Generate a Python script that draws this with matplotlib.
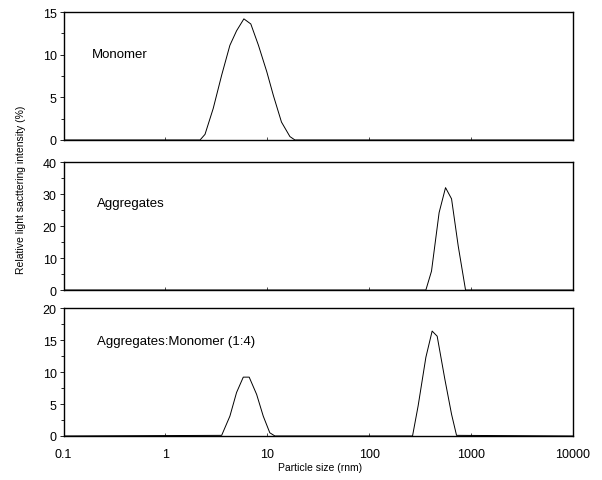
import numpy as np
import matplotlib.pyplot as plt
from matplotlib.ticker import MultipleLocator, FixedLocator, NullFormatter, NullLocator

# Monomer panel (size in nm, intensity in %)
mono_size = [0.1, 2.19, 2.45, 2.95, 3.57, 4.3, 5.0, 5.9, 6.9, 8.2, 9.9, 11.5, 13.8, 16.7, 18.7, 10000]
mono_int = [0, 0, 0.66, 3.7, 7.6, 11.1, 12.8, 14.2, 13.6, 11.1, 8.0, 5.2, 2.1, 0.4, 0, 0]

# Aggregates panel
agg_size = [0.1, 361, 410, 487, 563, 645, 750, 885, 10000]
agg_int = [0, 0, 5.9, 24.2, 32.0, 28.5, 13.75, 0, 0]

# Aggregates:Monomer (1:4) panel
mix_size = [0.1, 3.57, 4.3, 5.0, 5.82, 6.65, 7.87, 9.14, 10.6, 11.9,
            267, 303, 361, 416, 466, 554, 645, 722, 10000]
mix_int = [0, 0.1, 3.1, 6.8, 9.2, 9.2, 6.5, 3.1, 0.5, 0,
           0, 4.7, 12.3, 16.4, 15.6, 8.9, 3.4, 0.1, 0]

# data, label, y max, y step, label x/y (axes fraction)
panels = [
    (mono_size, mono_int, 'Monomer', 15, 5, 0.056, 0.67),
    (agg_size, agg_int, 'Aggregates', 40, 10, 0.065, 0.68),
    (mix_size, mix_int, 'Aggregates:Monomer (1:4)', 20, 5, 0.065, 0.74),
]

plt.rcParams['font.family'] = ['Liberation Sans', 'DejaVu Sans']

fig = plt.figure(figsize=(6.02, 4.81), dpi=100)
bottoms = [0.7069, 0.395, 0.0915]
axes = [fig.add_axes([0.1055, b, 0.846, 0.266]) for b in bottoms]

for ax, (x, y, label, ymax, step, lx, ly) in zip(axes, panels):
    ax.plot(x, y, color='black', linewidth=0.7)
    ax.set_xscale('log')
    ax.set_xlim(0.1, 10000)
    ax.set_ylim(0, ymax)
    ax.yaxis.set_major_locator(MultipleLocator(step))
    ax.yaxis.set_minor_locator(MultipleLocator(step / 2))
    ax.xaxis.set_major_locator(FixedLocator([0.1, 1, 10, 100, 1000, 10000]))
    ax.xaxis.set_minor_locator(NullLocator())
    ax.tick_params(axis='y', which='major', labelsize=9, length=3, width=0.6, pad=2)
    ax.tick_params(axis='y', which='minor', length=2, width=0.6)
    ax.tick_params(axis='x', which='both', direction='in', length=2, width=0.5, labelsize=9)
    for s in ax.spines.values():
        s.set_linewidth(1.0)
    ax.text(lx, ly, label, transform=ax.transAxes, fontsize=9.5, va='center', ha='left')

for ax in axes[:2]:
    ax.xaxis.set_major_formatter(NullFormatter())

axes[2].set_xticklabels(['0.1', '1', '10', '100', '1000', '10000'])
axes[2].tick_params(axis='x', pad=9)

fig.text(0.5315, 0.027, 'Particle size (rnm)', ha='center', va='center', fontsize=7.5)
fig.text(0.035, 0.605, 'Relative light sacttering intensity (%)', rotation=90,
         ha='center', va='center', fontsize=7.5)

plt.savefig('out.png', dpi=100)
